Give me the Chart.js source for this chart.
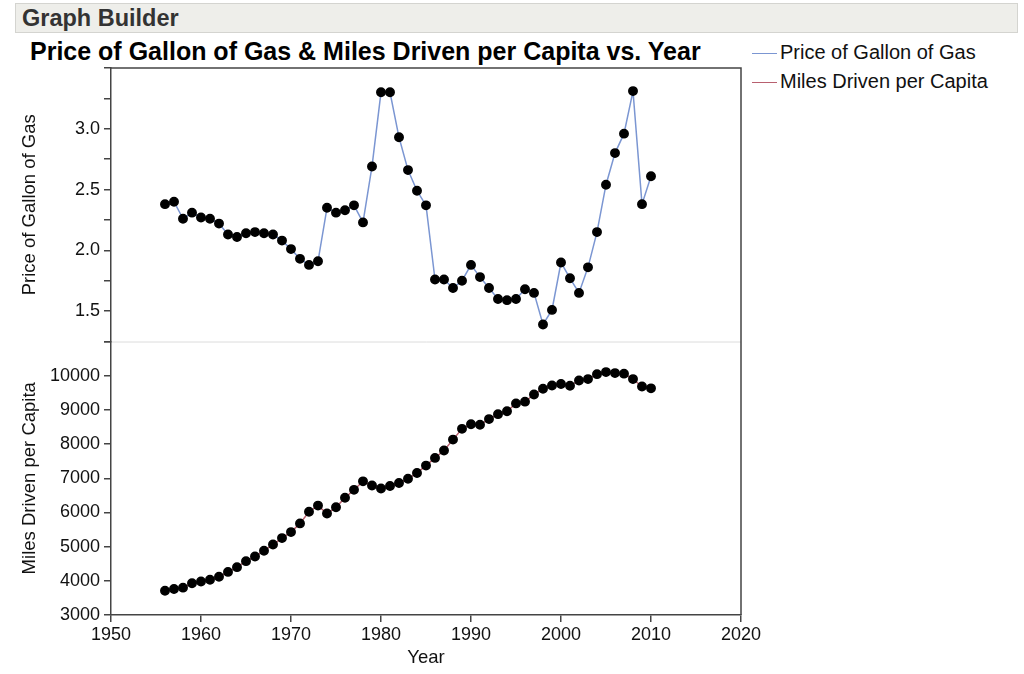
<!DOCTYPE html>
<html>
<head>
<meta charset="utf-8">
<script src="https://cdn.jsdelivr.net/npm/chart.js@4.4.1/dist/chart.umd.min.js"></script>
<style>
  body { margin: 0; width: 1024px; height: 674px; background: #fff; font-family: "Liberation Sans", Arial, sans-serif; overflow: hidden; position: relative; }
  #header { position: absolute; left: 15px; top: 3px; width: 1003px; height: 30px; background: #eeeeea; border: 1px solid #d4d4d0; box-sizing: border-box; }
  #header span { position: absolute; left: 6px; top: 1px; font-size: 23.5px; font-weight: bold; color: #333; }
  #title { position: absolute; left: 30px; top: 37px; font-size: 25px; font-weight: bold; color: #000; white-space: nowrap; }
  #legend { position: absolute; left: 752px; top: 38px; font-size: 20px; color: #111; }
  #legend div { height: 29px; line-height: 28px; white-space: nowrap; }
  #legend i { display: inline-block; width: 25px; height: 1.5px; vertical-align: middle; margin-right: 3px; }
  #wrap { position: absolute; left: 0; top: 40px; width: 1024px; height: 634px; }
</style>
</head>
<body>
<div id="header"><span>Graph Builder</span></div>
<div id="title">Price of Gallon of Gas &amp; Miles Driven per Capita vs. Year</div>
<div id="legend"></div>
<div id="wrap"><canvas id="chart"></canvas></div>
<script>
const years = [1956, 1957, 1958, 1959, 1960, 1961, 1962, 1963, 1964, 1965,
  1966, 1967, 1968, 1969, 1970, 1971, 1972, 1973, 1974, 1975,
  1976, 1977, 1978, 1979, 1980, 1981, 1982, 1983, 1984, 1985,
  1986, 1987, 1988, 1989, 1990, 1991, 1992, 1993, 1994, 1995,
  1996, 1997, 1998, 1999, 2000, 2001, 2002, 2003, 2004, 2005,
  2006, 2007, 2008, 2009, 2010];

const gasPrice = [2.38, 2.40, 2.26, 2.31, 2.27, 2.26, 2.22, 2.13, 2.11, 2.14,
  2.15, 2.14, 2.13, 2.08, 2.01, 1.93, 1.88, 1.91, 2.35, 2.31,
  2.33, 2.37, 2.23, 2.69, 3.30, 3.30, 2.93, 2.66, 2.49, 2.37,
  1.76, 1.76, 1.69, 1.75, 1.88, 1.78, 1.69, 1.60, 1.59, 1.60,
  1.68, 1.65, 1.39, 1.51, 1.90, 1.77, 1.65, 1.86, 2.15, 2.54,
  2.80, 2.96, 3.31, 2.38, 2.61];

const milesDriven = [3710, 3760, 3800, 3930, 3980, 4030, 4120, 4260, 4400, 4575,
  4710, 4880, 5060, 5250, 5425, 5680, 6020, 6200, 5970, 6150,
  6430, 6660, 6910, 6790, 6700, 6775, 6860, 6985, 7155, 7370,
  7595, 7810, 8130, 8445, 8580, 8565, 8730, 8875, 8960, 9190,
  9240, 9450, 9620, 9715, 9755, 9705, 9860, 9900, 10045, 10105,
  10075, 10060, 9900, 9685, 9630];

const seriesNames = ['Price of Gallon of Gas', 'Miles Driven per Capita'];
const seriesColors = ['#7b96d2', '#b8606f'];
const yearRange = [1950, 2020];

const axisColor = '#444';
const font = { family: '"Liberation Sans", Arial, sans-serif', size: 18 };

function points(vals) {
  return years.map((yr, i) => ({ x: yr, y: vals[i] }));
}

// legend
const legend = document.getElementById('legend');
seriesNames.forEach((name, i) => {
  const row = document.createElement('div');
  row.innerHTML = '<i style="background:' + seriesColors[i] + '"></i>' + name;
  legend.appendChild(row);
});

// top border, right border and the divider between the two panels
const framePlugin = {
  id: 'frame',
  afterDraw(chart) {
    const { ctx, chartArea: a } = chart;
    const yMiles = chart.scales.yMiles;
    ctx.save();
    ctx.strokeStyle = '#dcdcdc';
    ctx.lineWidth = 1;
    ctx.beginPath();
    ctx.moveTo(a.left + 1, yMiles.top + 0.5);
    ctx.lineTo(a.right, yMiles.top + 0.5);
    ctx.stroke();
    ctx.strokeStyle = axisColor;
    ctx.lineWidth = 1.5;
    ctx.beginPath();
    ctx.moveTo(a.left, a.top);
    ctx.lineTo(a.right, a.top);
    ctx.lineTo(a.right, a.bottom);
    ctx.stroke();
    ctx.restore();
  }
};

function yAxis(title, min, max, step, fmt) {
  return {
    type: 'linear',
    position: 'left',
    stack: 'panels',
    stackWeight: 1,
    min: min,
    max: max,
    afterFit(scale) { scale.width = 111; },
    border: { display: true, color: axisColor, width: 1.5 },
    grid: { drawOnChartArea: false, drawTicks: true, tickLength: 7, color: axisColor, lineWidth: 1.5 },
    ticks: { stepSize: step, autoSkip: false, padding: 4, color: '#111', font: font, callback: fmt },
    title: { display: true, text: title, color: '#111', font: { family: font.family, size: 18.5 }, padding: { top: 19, bottom: 0 } }
  };
}

new Chart(document.getElementById('chart'), {
  type: 'line',
  data: {
    datasets: [{
      label: seriesNames[0],
      data: points(gasPrice),
      yAxisID: 'yGas',
      borderColor: seriesColors[0],
      borderWidth: 1.5,
      pointBackgroundColor: '#000',
      pointBorderColor: '#000',
      pointRadius: 4.2,
      tension: 0
    }, {
      label: seriesNames[1],
      data: points(milesDriven),
      yAxisID: 'yMiles',
      borderColor: seriesColors[1],
      borderWidth: 1.5,
      pointBackgroundColor: '#000',
      pointBorderColor: '#000',
      pointRadius: 4.2,
      tension: 0
    }]
  },
  options: {
    responsive: true,
    maintainAspectRatio: false,
    animation: false,
    layout: { padding: { left: 0, right: 283, top: 28, bottom: 0 } },
    plugins: { legend: { display: false }, title: { display: false }, tooltip: { enabled: false } },
    scales: {
      // stacked axes are placed bottom-up, so the lower panel comes first
      yMiles: yAxis('Miles Driven per Capita', 3000, 11000, 1000,
        v => v < 10500 ? String(v) : ''),
      yGas: yAxis('Price of Gallon of Gas', 1.25, 3.5, 0.25,
        v => (Math.abs(v * 2 - Math.round(v * 2)) < 1e-6 && v > 1.3 && v < 3.4) ? v.toFixed(1) : ''),
      x: {
        type: 'linear',
        position: 'bottom',
        min: yearRange[0],
        max: yearRange[1],
        afterFit(scale) { scale.height = 59; },
        border: { display: true, color: axisColor, width: 1.5 },
        grid: { drawOnChartArea: false, drawTicks: true, tickLength: 7, color: axisColor, lineWidth: 1.5 },
        ticks: { stepSize: 10, autoSkip: false, padding: 2, maxRotation: 0, color: '#111', font: font, callback: v => String(v) },
        title: { display: true, text: 'Year', color: '#111', font: { family: font.family, size: 18.5 }, padding: { top: 0, bottom: 5 } }
      }
    }
  },
  plugins: [framePlugin]
});
</script>
</body>
</html>
